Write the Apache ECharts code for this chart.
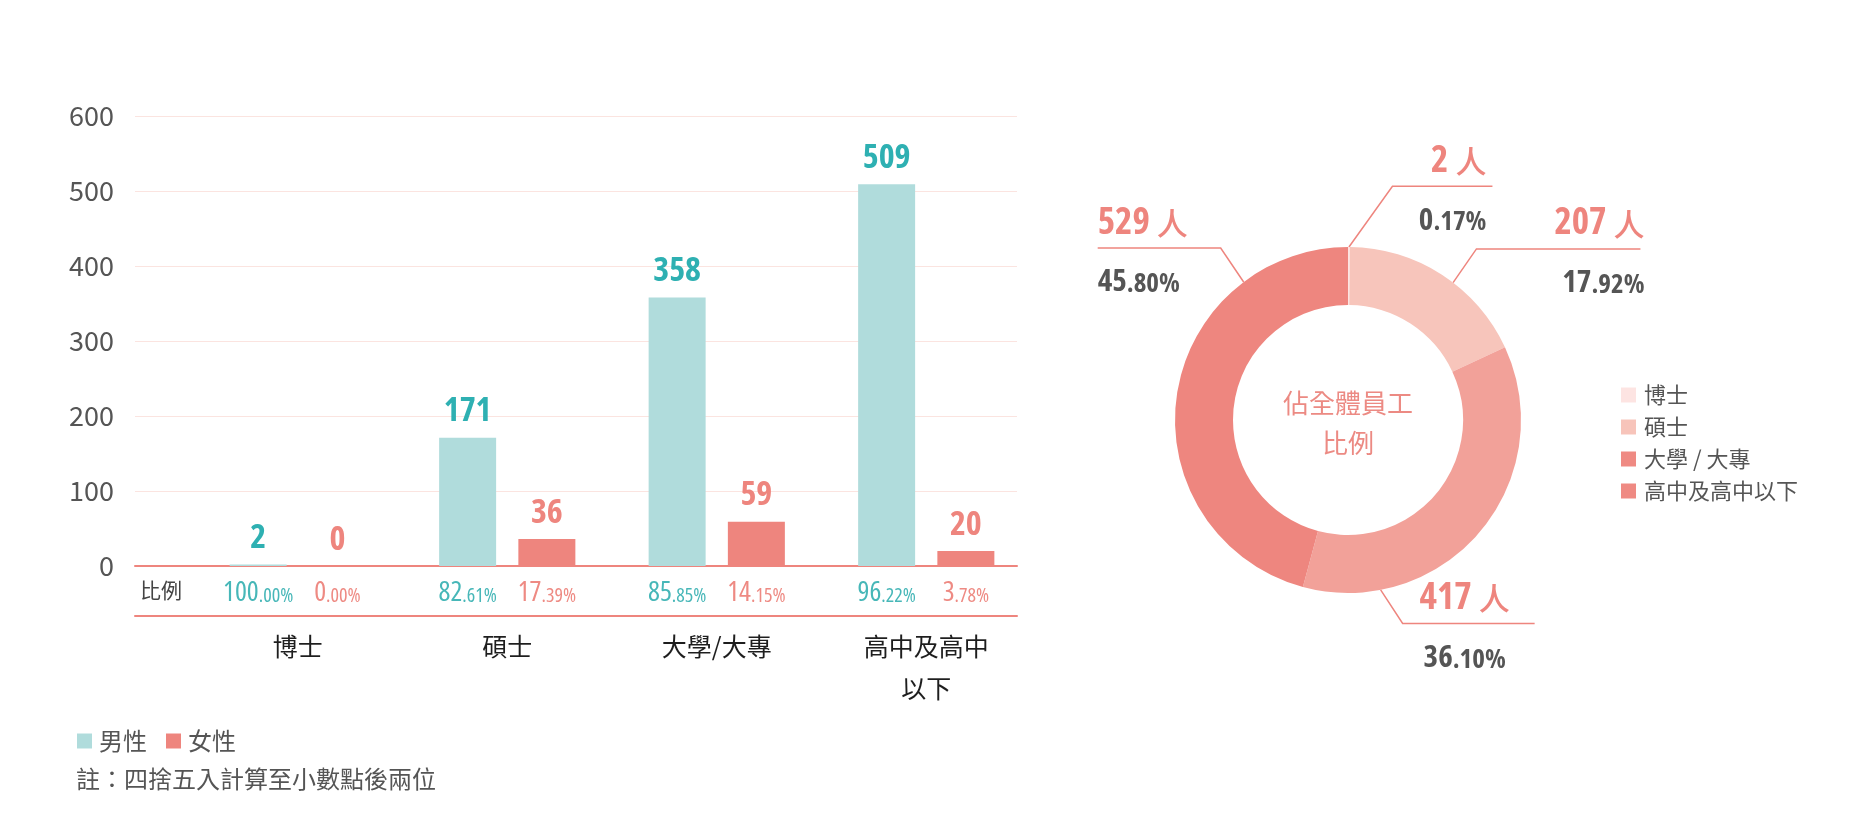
<!DOCTYPE html>
<html><head><meta charset="utf-8">
<script src="https://cdn.jsdelivr.net/npm/echarts@6/dist/echarts.min.js"></script>
<style>html,body{margin:0;padding:0;background:#fff}#c{width:1875px;height:824px}</style>
</head><body><div id="c"></div>
<script>
// ---- data ----
const categories = ['博士', '碩士', '大學/大專', '高中及高中以下'];
const categoryLabels = ['博士', '碩士', '大學/大專', '高中及高中\n以下'];
const maleCounts = [2, 171, 358, 509];
const femaleCounts = [0, 36, 59, 20];
const malePct = ['100.00', '82.61', '85.85', '96.22'];
const femalePct = ['0.00', '17.39', '14.15', '3.78'];
const yMin = 0, yMax = 600, yStep = 100;
const pieNames = ['博士', '碩士', '大學 / 大專', '高中及高中以下'];
const pieValues = [2, 207, 417, 529];

// ---- styles ----
const NUM = '"Open Sans","Noto Sans",sans-serif';
const BOLD_C = 'bold condensed';
const REG_C = 'condensed';
const CJK = '"Noto Sans CJK TC","Noto Sans CJK SC",sans-serif';
const TEAL_BAR = '#b0dcdc', TEAL_TXT = '#2eb0b2', TEAL_PCT = '#47b7b8';
const PINK = '#ee857e', PINK_PCT = '#ee8a83';
const pieColors = ['#fde4e2', '#f7c5bb', '#f2a199', '#ee867f'];
const legendColors = ['#fde4e2', '#f7c4ba', '#ef8a83', '#ef8a83'];
const PIE_C = [1348, 420], PIE_R = [115, 173];
const pieLabelGeom = [
  { frac: 0.5, dx: 0.58, dy: -0.81, len1: 75, len2: 100, align: 'right', shift: -6 },
  { frac: 0.57, dx: 0.57, dy: -0.82, len1: 41, len2: 164, align: 'right', shift: 4 },
  { frac: 0.8, dx: 0.55, dy: 0.84, len1: 40, len2: 132, align: 'center', shift: -4 },
  { frac: 0.775, dx: -0.56, dy: -0.83, len1: 41, len2: 123, align: 'left', shift: 0 }
];
const total = pieValues.reduce((a, b) => a + b, 0);

function pctRich(arr) {
  return function (p) {
    const s = arr[p.dataIndex].split('.');
    return '{i|' + s[0] + '}{d|.' + s[1] + '%}';
  };
}
function pctStyle(color) {
  return {
    i: { fontFamily: NUM, fontWeight: REG_C, fontSize: 28, color: color, verticalAlign: 'bottom', lineHeight: 29 },
    d: { fontFamily: NUM, fontWeight: REG_C, fontSize: 20, color: color, verticalAlign: 'bottom', lineHeight: 29, padding: [0, 0, 1, 0] }
  };
}

const chart = echarts.init(document.getElementById('c'), null, { renderer: 'canvas' });
const option = {
  backgroundColor: '#fff',
  animation: false,
  grid: [
    { left: 135, top: 116, width: 882, height: 450 },
    { left: 193, top: 116, width: 838, height: 450 }
  ],
  xAxis: [
    { gridIndex: 0, type: 'category', data: categories, position: 'bottom',
      axisLine: { show: true, onZero: false, lineStyle: { color: PINK, width: 2 } },
      axisTick: { show: false }, axisLabel: { show: false }, splitLine: { show: false } },
    { gridIndex: 0, type: 'category', data: categories, position: 'bottom', offset: 50,
      axisLine: { show: true, onZero: false, lineStyle: { color: PINK, width: 2 } },
      axisTick: { show: false }, axisLabel: { show: false }, splitLine: { show: false } },
    { gridIndex: 1, type: 'category', data: categories, position: 'bottom',
      axisLine: { show: false, onZero: false }, axisTick: { show: false },
      axisLabel: { margin: 59, fontFamily: CJK, fontSize: 25, color: '#1e1e1e', lineHeight: 42,
        formatter: function (v, i) { return categoryLabels[i]; } } },
    { gridIndex: 1, type: 'category', data: categories, position: 'bottom', show: false }
  ],
  yAxis: [
    { gridIndex: 0, type: 'value', min: yMin, max: yMax, interval: yStep,
      axisLine: { show: false }, axisTick: { show: false },
      axisLabel: { margin: 21, fontFamily: CJK, fontSize: 27, color: '#555' },
      splitLine: { show: true, lineStyle: { color: '#fbe4e0', width: 1 } } },
    { gridIndex: 1, type: 'value', min: yMin, max: yMax, interval: yStep, show: false,
      splitLine: { show: false } }
  ],
  legend: [
    { data: ['男性', '女性'], left: 77, top: 729, padding: 0, orient: 'horizontal', icon: 'rect',
      itemWidth: 15, itemHeight: 15, itemGap: 19,
      textStyle: { fontFamily: CJK, fontSize: 24, color: '#555', padding: [0, 0, 0, 2] } },
    { data: pieNames.map((n, i) => ({ name: n, itemStyle: { color: legendColors[i] } })),
      left: 1621, top: 384, padding: 0, orient: 'vertical', icon: 'rect',
      itemWidth: 15, itemHeight: 15, itemGap: 10,
      textStyle: { fontFamily: CJK, fontSize: 22, color: '#555', padding: [0, 0, 0, 3] } }
  ],
  graphic: [
    { type: 'text', left: 140, top: 580, style: { text: '比例', fontFamily: CJK, fontSize: 21, fill: '#444' } },
    { type: 'text', left: 76, top: 767, style: { text: '註：四捨五入計算至小數點後兩位', fontFamily: CJK, fontSize: 24, fill: '#555' } },
    { type: 'text', x: PIE_C[0], y: PIE_C[1] + 3,
      style: { text: '佔全體員工\n比例', fontFamily: CJK, fontSize: 26, lineHeight: 40, fill: '#ec8a83',
        align: 'center', verticalAlign: 'middle' } }
  ],
  series: [
    { name: '男性', type: 'bar', xAxisIndex: 2, yAxisIndex: 1, data: maleCounts,
      barWidth: 57, barGap: '39%', itemStyle: { color: TEAL_BAR },
      label: { show: true, position: 'top', distance: 9, fontFamily: NUM, fontWeight: BOLD_C, fontSize: 34, color: TEAL_TXT } },
    { name: '女性', type: 'bar', xAxisIndex: 2, yAxisIndex: 1, data: femaleCounts,
      barWidth: 57, barGap: '39%', itemStyle: { color: PINK },
      label: { show: true, position: 'top', distance: 9, fontFamily: NUM, fontWeight: BOLD_C, fontSize: 34, color: PINK } },
    { name: 'malePct', type: 'bar', xAxisIndex: 3, yAxisIndex: 1, data: maleCounts.map(() => 0),
      barWidth: 57, barGap: '39%', itemStyle: { color: 'rgba(0,0,0,0)' }, silent: true,
      label: { show: true, position: 'bottom', distance: 12, formatter: pctRich(malePct), rich: pctStyle(TEAL_PCT) } },
    { name: 'femalePct', type: 'bar', xAxisIndex: 3, yAxisIndex: 1, data: femaleCounts.map(() => 0),
      barWidth: 57, barGap: '39%', itemStyle: { color: 'rgba(0,0,0,0)' }, silent: true,
      label: { show: true, position: 'bottom', distance: 12, formatter: pctRich(femalePct), rich: pctStyle(PINK_PCT) } },
    { name: '比例', type: 'pie', center: PIE_C, radius: PIE_R, startAngle: 90, clockwise: true,
      avoidLabelOverlap: false,
      data: pieNames.map((n, i) => ({ name: n, value: pieValues[i], itemStyle: { color: pieColors[i] } })),
      label: {
        show: true, position: 'outside',
        formatter: function (p) {
          const s = (p.value / total * 100).toFixed(2).split('.');
          return '{n|' + p.value + '}{u| 人}\n{pi|' + s[0] + '}{pd|.' + s[1] + '%}';
        },
        rich: {
          n: { fontFamily: NUM, fontWeight: BOLD_C, fontSize: 37, color: PINK, lineHeight: 50 },
          u: { fontFamily: CJK, fontWeight: 500, fontSize: 31, color: PINK, lineHeight: 50 },
          pi: { fontFamily: NUM, fontWeight: BOLD_C, fontSize: 31, color: '#555', lineHeight: 50, verticalAlign: 'bottom' },
          pd: { fontFamily: NUM, fontWeight: BOLD_C, fontSize: 27, color: '#555', lineHeight: 50, verticalAlign: 'bottom' }
        }
      },
      labelLine: { show: true, length: 40, length2: 100, smooth: false, lineStyle: { color: PINK, width: 1.5 } },
      labelLayout: function (params) {
        const i = params.dataIndex;
        const g = pieLabelGeom[i];
        let before = 0;
        for (let k = 0; k < i; k++) before += pieValues[k];
        const ang = (before + g.frac * pieValues[i]) / total * 2 * Math.PI;
        const sx = PIE_C[0] + PIE_R[1] * Math.sin(ang);
        const sy = PIE_C[1] - PIE_R[1] * Math.cos(ang);
        const ex = sx + g.len1 * g.dx, ey = sy + g.len1 * g.dy;
        const side = g.dx >= 0 ? 1 : -1;
        const fx = ex + side * g.len2;
        let lx = fx;
        if (g.align === 'center') lx = (ex + fx) / 2;
        return {
          x: lx + g.shift, y: ey, align: g.align, verticalAlign: 'middle',
          labelLinePoints: [[sx, sy], [ex, ey], [fx, ey]]
        };
      }
    }
  ]
};
chart.setOption(option);
</script></body></html>
